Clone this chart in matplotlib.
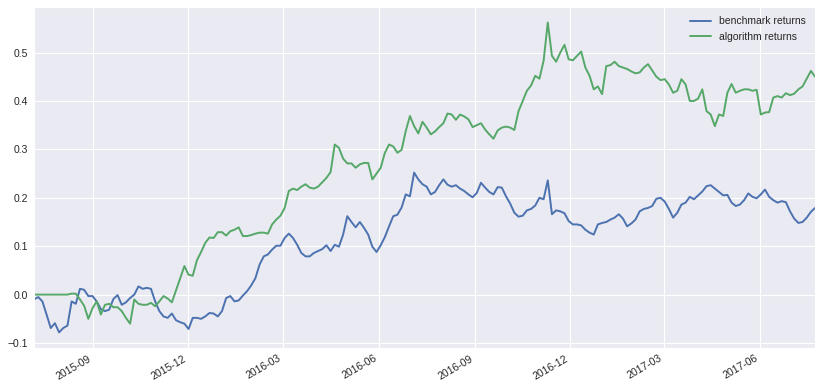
import numpy as np
import pandas as pd
import matplotlib
matplotlib.use("Agg")
import matplotlib.pyplot as plt
import matplotlib.dates as mdates
import seaborn as sns

# sample dates: every 4 calendar days from 2015-07-07 to 2017-07-24
start_date = "2015-07-07"
n_points = 188
dates = pd.date_range(start_date, periods=n_points, freq="4D")

benchmark = [
    -0.010, -0.005, -0.014, -0.041, -0.069, -0.059, -0.078, -0.069, -0.064, -0.014,
    -0.019, 0.012, 0.010, -0.003, -0.003, -0.014, -0.030, -0.034, -0.031, -0.009,
    -0.001, -0.021, -0.016, -0.007, 0.000, 0.017, 0.012, 0.014, 0.012, -0.014,
    -0.034, -0.045, -0.048, -0.039, -0.053, -0.057, -0.060, -0.071, -0.048, -0.048,
    -0.050, -0.045, -0.038, -0.039, -0.045, -0.034, -0.007, -0.003, -0.014, -0.012,
    -0.002, 0.007, 0.019, 0.034, 0.062, 0.079, 0.083, 0.093, 0.101, 0.101,
    0.117, 0.126, 0.117, 0.103, 0.086, 0.079, 0.079, 0.086, 0.090, 0.094,
    0.102, 0.090, 0.103, 0.099, 0.124, 0.162, 0.150, 0.139, 0.150, 0.138,
    0.124, 0.099, 0.088, 0.102, 0.119, 0.141, 0.162, 0.165, 0.180, 0.207,
    0.203, 0.252, 0.238, 0.228, 0.223, 0.207, 0.212, 0.226, 0.238, 0.227,
    0.223, 0.226, 0.219, 0.214, 0.207, 0.201, 0.210, 0.231, 0.221, 0.212,
    0.207, 0.222, 0.221, 0.203, 0.188, 0.169, 0.161, 0.163, 0.174, 0.177,
    0.184, 0.200, 0.197, 0.236, 0.166, 0.174, 0.172, 0.168, 0.152, 0.145,
    0.145, 0.143, 0.134, 0.128, 0.124, 0.145, 0.148, 0.150, 0.155, 0.159,
    0.166, 0.157, 0.141, 0.147, 0.155, 0.172, 0.177, 0.179, 0.183, 0.198,
    0.200, 0.192, 0.177, 0.159, 0.169, 0.186, 0.190, 0.202, 0.197, 0.205,
    0.213, 0.224, 0.226, 0.219, 0.212, 0.205, 0.206, 0.190, 0.183, 0.186,
    0.195, 0.209, 0.202, 0.199, 0.207, 0.217, 0.202, 0.195, 0.190, 0.193,
    0.191, 0.172, 0.157, 0.148, 0.150, 0.159, 0.171, 0.179,
]

algorithm = [
    0.000, 0.000, 0.000, 0.000, 0.000, 0.000, 0.000, 0.000, 0.000, 0.002,
    0.002, -0.010, -0.023, -0.050, -0.028, -0.014, -0.041, -0.021, -0.019, -0.026,
    -0.026, -0.034, -0.048, -0.060, -0.010, -0.019, -0.021, -0.021, -0.017, -0.024,
    -0.014, -0.003, -0.008, -0.016, 0.009, 0.034, 0.059, 0.041, 0.039, 0.071,
    0.088, 0.107, 0.118, 0.117, 0.129, 0.129, 0.122, 0.131, 0.134, 0.139,
    0.121, 0.121, 0.123, 0.126, 0.128, 0.128, 0.126, 0.145, 0.155, 0.163,
    0.179, 0.214, 0.219, 0.216, 0.223, 0.228, 0.221, 0.219, 0.223, 0.232,
    0.241, 0.253, 0.310, 0.303, 0.281, 0.271, 0.271, 0.262, 0.269, 0.272,
    0.272, 0.238, 0.250, 0.262, 0.293, 0.310, 0.306, 0.293, 0.299, 0.338,
    0.369, 0.348, 0.333, 0.357, 0.345, 0.331, 0.337, 0.346, 0.354, 0.374,
    0.372, 0.361, 0.372, 0.368, 0.362, 0.346, 0.350, 0.354, 0.341, 0.331,
    0.322, 0.339, 0.345, 0.347, 0.345, 0.340, 0.379, 0.400, 0.421, 0.432,
    0.452, 0.446, 0.483, 0.562, 0.493, 0.481, 0.500, 0.516, 0.486, 0.484,
    0.493, 0.502, 0.469, 0.452, 0.424, 0.430, 0.414, 0.472, 0.474, 0.481,
    0.472, 0.469, 0.466, 0.461, 0.457, 0.459, 0.469, 0.476, 0.463, 0.450,
    0.443, 0.445, 0.434, 0.417, 0.421, 0.445, 0.434, 0.400, 0.400, 0.405,
    0.424, 0.379, 0.372, 0.348, 0.372, 0.369, 0.417, 0.435, 0.417, 0.421,
    0.424, 0.424, 0.421, 0.423, 0.372, 0.376, 0.377, 0.407, 0.410, 0.407,
    0.416, 0.412, 0.415, 0.424, 0.430, 0.446, 0.462, 0.450,
]

series_labels = ["benchmark returns", "algorithm returns"]
series_colors = ["#4C72B0", "#55A868"]

sns.set_style("darkgrid")
plt.rcParams["font.family"] = ["Liberation Sans", "DejaVu Sans"]

fig = plt.figure(figsize=(8.22, 3.90), dpi=100)
ax = fig.add_axes([0.0414, 0.108, 0.9502, 0.874])

ax.plot(dates, benchmark, color=series_colors[0], lw=1.4, label=series_labels[0])
ax.plot(dates, algorithm, color=series_colors[1], lw=1.4, label=series_labels[1])

ax.set_xlim(dates[0], dates[-1])
ax.xaxis.set_major_locator(mdates.MonthLocator(bymonth=[3, 6, 9, 12]))
ax.xaxis.set_major_formatter(mdates.DateFormatter("%Y-%m"))
ax.set_yticks([-0.1, 0.0, 0.1, 0.2, 0.3, 0.4, 0.5])
ax.tick_params(axis="both", labelsize=7.5, colors="#262626", length=0, pad=4)
for lab in ax.get_xticklabels():
    lab.set_rotation(30)
    lab.set_ha("right")

leg = ax.legend(loc="upper right", frameon=False, fontsize=7.5)

fig.savefig("out.png", dpi=100)
